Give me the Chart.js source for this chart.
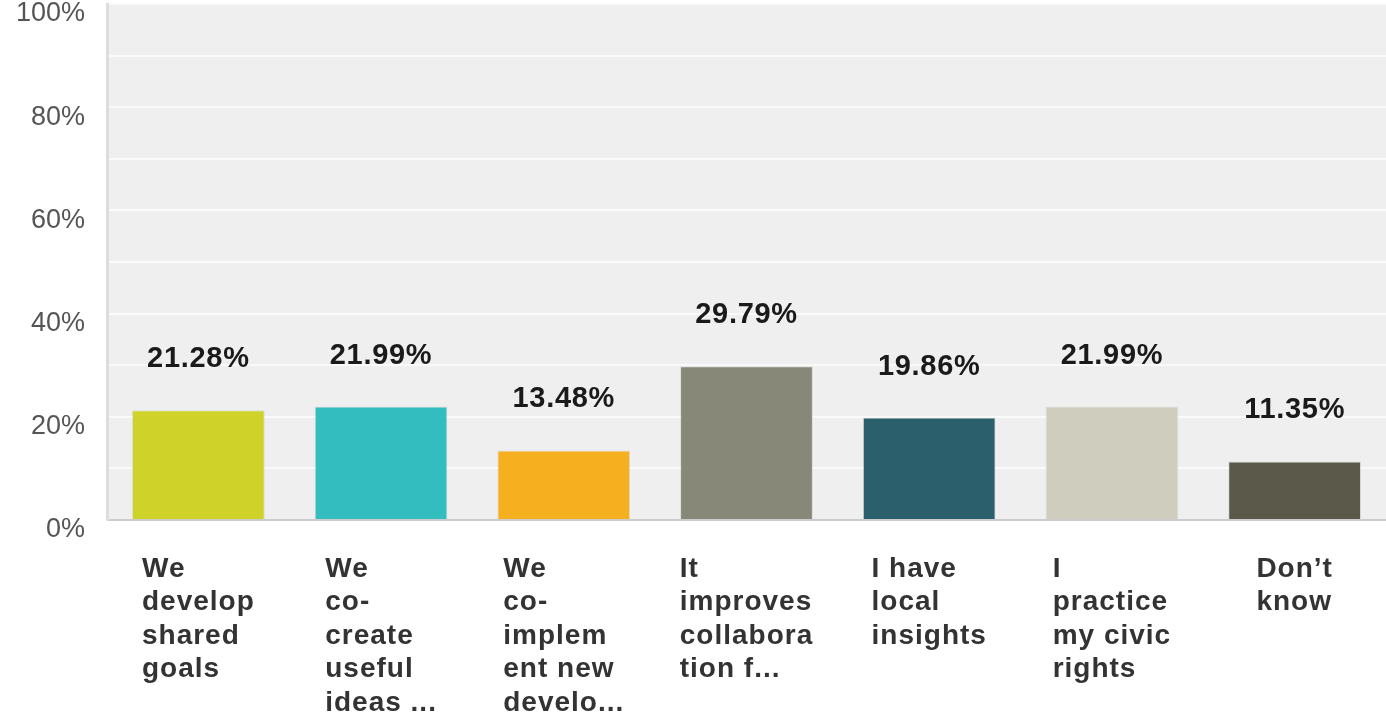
<!DOCTYPE html>
<html>
<head>
<meta charset="utf-8">
<script src="https://cdn.jsdelivr.net/npm/chart.js@4.4.1/dist/chart.umd.min.js"></script>
<style>
  html, body { margin: 0; padding: 0; background: #fff; }
  #wrap { width: 1386px; height: 715px; }
</style>
</head>
<body>
<div id="wrap"><canvas id="surveyChart"></canvas></div>
<script>
const categories = [
  ['We', 'develop', 'shared', 'goals'],
  ['We', 'co-', 'create', 'useful', 'ideas ...'],
  ['We', 'co-', 'implem', 'ent new', 'develo...'],
  ['It', 'improves', 'collabora', 'tion f...'],
  ['I have', 'local', 'insights'],
  ['I', 'practice', 'my civic', 'rights'],
  ['Don\u2019t', 'know']
];
const values = [21.28, 21.99, 13.48, 29.79, 19.86, 21.99, 11.35];
const barColors = ['#cfd329', '#33bdbf', '#f5af1f', '#878878', '#2c5f6c', '#cfcdbe', '#5b5a4a'];
const yTicks = [0, 20, 40, 60, 80, 100];

const FONT = '"Liberation Sans", Arial, sans-serif';

// grey plot background
const plotBg = {
  id: 'plotBg',
  beforeDraw(chart) {
    const a = chart.chartArea, ctx = chart.ctx;
    ctx.save();
    ctx.fillStyle = '#efefef';
    ctx.fillRect(a.left, a.top, a.right - a.left, a.bottom - a.top);
    ctx.restore();
  }
};

// value labels above bars + wrapped category labels (block centred, lines left aligned)
const labels = {
  id: 'labels',
  afterDatasetsDraw(chart) {
    const ctx = chart.ctx;
    const xs = chart.scales.x, ys = chart.scales.y;
    ctx.save();
    ctx.font = 'bold 29px ' + FONT;
    ctx.letterSpacing = '0.7px';
    ctx.fillStyle = '#1a1a1a';
    ctx.textAlign = 'center';
    ctx.textBaseline = 'middle';
    values.forEach((v, i) => {
      ctx.fillText(v.toFixed(2) + '%', xs.getPixelForValue(i), ys.getPixelForValue(v) - 51);
    });

    ctx.font = 'bold 28px ' + FONT;
    ctx.letterSpacing = '1px';
    ctx.fillStyle = '#333';
    ctx.textAlign = 'left';
    categories.forEach((lines, i) => {
      const w = Math.max(...lines.map(l => ctx.measureText(l).width));
      const x0 = xs.getPixelForValue(i) - w / 2;
      lines.forEach((l, j) => {
        ctx.fillText(l, x0, chart.chartArea.bottom + 49 + j * 33.5);
      });
    });
    ctx.restore();
  }
};

new Chart(document.getElementById('surveyChart'), {
  type: 'bar',
  data: {
    labels: categories.map(c => c.join(' ')),
    datasets: [{
      data: values,
      backgroundColor: barColors,
      borderColor: 'rgba(0,0,0,0.08)',
      borderWidth: 1,
      borderSkipped: 'bottom',
      categoryPercentage: 1,
      barPercentage: 0.727
    }]
  },
  options: {
    responsive: true,
    maintainAspectRatio: false,
    animation: false,
    layout: { padding: { top: 4, right: 0, bottom: 0, left: 0 } },
    plugins: { legend: { display: false }, tooltip: { enabled: false } },
    scales: {
      x: {
        afterFit(scale) { scale.height = 195; },
        grid: { display: false },
        border: { display: true, color: '#cccccc', width: 2 },
        ticks: { display: false }
      },
      y: {
        min: 0,
        max: 100,
        afterFit(scale) {
          scale.width = 107;
          scale.paddingTop = 0;
          scale.paddingBottom = 0;
        },
        afterBuildTicks(scale) {
          scale.ticks = [0,10,20,30,40,50,60,70,80,90,100].map(v => ({ value: v }));
        },
        grid: { color: '#fafafa', lineWidth: 2, drawTicks: false },
        border: { display: true, color: '#dddddd', width: 3 },
        ticks: {
          padding: 22,
          labelOffset: c => 10 + (c.tick ? c.tick.value : 0) * 0.05,
          color: '#555',
          font: { family: FONT, size: 27 },
          callback: v => yTicks.includes(v) ? v + '%' : ''
        }
      }
    }
  },
  plugins: [plotBg, labels]
});
</script>
</body>
</html>
